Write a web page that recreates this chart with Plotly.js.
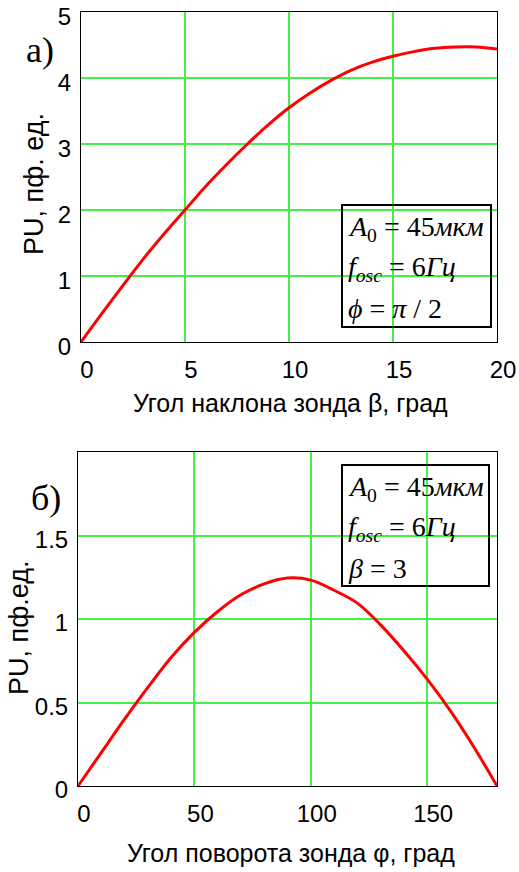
<!DOCTYPE html>
<html>
<head>
<meta charset="utf-8">
<script src="https://cdn.plot.ly/plotly-3.0.1.min.js"></script>
<style>
  html, body { margin: 0; padding: 0; background: #fff; }
  #plot { width: 519px; height: 872px; }
</style>
</head>
<body>
<div id="plot"></div>
<script>
// (a) PU vs probe tilt angle beta
const betaDeg = [0, 1, 2, 3, 4, 5, 6, 7, 8, 9, 10, 11, 12, 13, 14, 15, 16, 17, 18, 19, 20];
const puBeta = [0, 0.43, 0.85, 1.26, 1.64, 2.0, 2.36, 2.69, 3.0, 3.29, 3.55, 3.77, 3.96, 4.12, 4.24, 4.33, 4.40, 4.45, 4.47, 4.47, 4.44];

// (b) PU vs probe rotation angle phi
const phiDeg = [0, 10, 20, 30, 40, 50, 60, 70, 80, 90, 100, 110, 120, 130, 140, 150, 160, 170, 180];
const puPhi = [0, 0.2, 0.4, 0.59, 0.77, 0.92, 1.045, 1.145, 1.21, 1.245, 1.233, 1.172, 1.095, 0.965, 0.81, 0.64, 0.45, 0.235, 0];

const xTicksA = [0, 5, 10, 15, 20];
const yTicksA = [0, 1, 2, 3, 4, 5];
const xTicksB = [0, 50, 100, 150];
const yTicksB = [0, 0.5, 1, 1.5];

const W = 519, H = 872;
const px = (x) => x / W;
const py = (y) => 1 - y / H;

const gridGreen = '#44f044';
const sans = 'Liberation Sans, Arial, sans-serif';
const serif = 'Liberation Serif, Times New Roman, serif';
const tickFont = { family: sans, size: 24, color: '#000' };
const xTitleFont = { family: sans, size: 25, color: '#000' };
const yTitleFont = { family: sans, size: 27, color: '#000' };
const mathFont = { family: serif, size: 28, color: '#000' };

function axisStyle(extra) {
  return Object.assign({
    showline: true,
    linecolor: '#000',
    linewidth: 1,
    mirror: true,
    showgrid: true,
    gridcolor: gridGreen,
    gridwidth: 2,
    zeroline: false,
    ticks: '',
    tickfont: tickFont,
    fixedrange: true,
  }, extra);
}

const traceA = {
  x: betaDeg,
  y: puBeta,
  xaxis: 'x',
  yaxis: 'y',
  type: 'scatter',
  mode: 'lines',
  line: { color: '#ff0000', width: 3, shape: 'spline' },
  hoverinfo: 'skip',
};

const traceB = {
  x: phiDeg,
  y: puPhi,
  xaxis: 'x2',
  yaxis: 'y2',
  type: 'scatter',
  mode: 'lines',
  line: { color: '#ff0000', width: 3, shape: 'spline' },
  hoverinfo: 'skip',
};

// helper for paper-positioned text
function label(text, x, y, font, extra) {
  return Object.assign({
    text: text, xref: 'paper', yref: 'paper', x: px(x), y: py(y),
    xanchor: 'center', yanchor: 'middle', showarrow: false, font: font,
  }, extra || {});
}

const layout = {
  width: W,
  height: H,
  margin: { l: 0, r: 0, t: 0, b: 0 },
  paper_bgcolor: '#fff',
  plot_bgcolor: '#fff',
  showlegend: false,
  xaxis: axisStyle({
    domain: [px(81), px(497)],
    range: [0, 20],
    tickvals: xTicksA,
    ticklabelshift: 6,
    ticklabelstandoff: 6,
    anchor: 'y',
  }),
  yaxis: axisStyle({
    domain: [py(342), py(12)],
    range: [0, 5],
    tickvals: yTicksA,
    ticklabelshift: 5,
    ticklabelstandoff: 4,
    anchor: 'x',
  }),
  xaxis2: axisStyle({
    domain: [px(78), px(497)],
    range: [0, 180],
    tickvals: xTicksB,
    ticklabelshift: 6,
    ticklabelstandoff: 6,
    anchor: 'y2',
  }),
  yaxis2: axisStyle({
    domain: [py(786), py(452)],
    range: [0, 2],
    tickvals: yTicksB,
    ticklabelshift: 4,
    ticklabelstandoff: 4,
    anchor: 'x2',
  }),
  shapes: [
    { type: 'rect', xref: 'paper', yref: 'paper', x0: px(342), x1: px(491), y0: py(327), y1: py(205),
      line: { color: '#000', width: 2 }, fillcolor: 'rgba(255,255,255,0)' },
    { type: 'rect', xref: 'paper', yref: 'paper', x0: px(342), x1: px(489), y0: py(586), y1: py(465),
      line: { color: '#000', width: 2 }, fillcolor: 'rgba(255,255,255,0)' },
  ],
  annotations: [
    label('а)', 40, 50, { family: serif, size: 36, color: '#000' }),
    label('б)', 46, 498, { family: serif, size: 36, color: '#000' }),

    // axis titles
    label('Угол наклона зонда β, град', 290, 403, xTitleFont),
    label('PU, пф. ед.', 34, 184, yTitleFont, { textangle: -90 }),
    label('Угол поворота зонда φ, град', 291, 853, xTitleFont),
    label('PU, пф.ед.', 19, 628, yTitleFont, { textangle: -90 }),

    // parameter boxes
    label('<i>A</i><sub>0</sub> = 45<i>мкм</i>', 346, 228, mathFont, { xanchor: 'left' }),
    label('<i>f</i><sub><i>osc</i></sub> = 6<i>Гц</i>', 346, 268, mathFont, { xanchor: 'left' }),
    label('<i>ϕ</i> = <i>π</i> / 2', 346, 308, mathFont, { xanchor: 'left' }),

    label('<i>A</i><sub>0</sub> = 45<i>мкм</i>', 346, 488, mathFont, { xanchor: 'left' }),
    label('<i>f</i><sub><i>osc</i></sub> = 6<i>Гц</i>', 346, 528, mathFont, { xanchor: 'left' }),
    label('<i>β</i> = 3', 346, 568, mathFont, { xanchor: 'left' }),
  ],
};

Plotly.newPlot('plot', [traceA, traceB], layout, { displayModeBar: false, staticPlot: true });
</script>
</body>
</html>
